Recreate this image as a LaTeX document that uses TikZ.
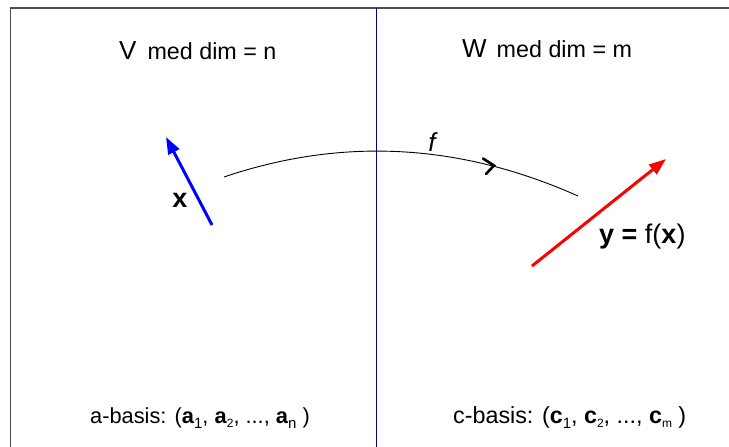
\documentclass[tikz,border=0pt]{standalone}
\usepackage{fontspec}
\setmainfont{Liberation Sans}
\usetikzlibrary{arrows.meta}
\newcommand{\subA}[1]{\raisebox{-0.25em}{\fontsize{15}{17}\selectfont #1}}
\newcommand{\subB}[1]{\raisebox{-0.2em}{\fontsize{12}{14}\selectfont #1}}
\begin{document}
\begin{tikzpicture}[x=1pt,y=-1pt,
  frameline/.style={draw=black!70,line width=1.5pt},
  midline/.style={draw=blue!50!black,line width=1pt},
  title/.style={inner sep=0pt,anchor=base west},
  vecx/.style={draw=blue,line width=3pt,-{Triangle[length=17pt,width=12pt]}},
  vecy/.style={draw=red,line width=3pt,-{Triangle[length=17pt,width=12pt]}},
  chevron/.style={draw=black,line width=2.6pt,line cap=round,line join=miter},
  maparc/.style={draw=black,line width=0.9pt},
  lab/.style={inner sep=0pt}]
\useasboundingbox (0,0) rectangle (729,447);
\coordinate (tl) at (10.5,8);
\coordinate (bl) at (10.5,447);
\coordinate (tr) at (729,8);
\coordinate (mt) at (376,8);
\coordinate (mb) at (376,447);
\draw[frameline] (bl) -- (tl) -- (tr);
\draw[midline] (mt) -- (mb);
% titles
\node[title] (V) at (119,59) {\fontsize{26}{30}\selectfont V\hspace{11pt}\fontsize{23.3}{27}\selectfont med dim = n};
\node[title] (W) at (462,57) {\fontsize{26}{30}\selectfont W\hspace{10pt}\fontsize{23.3}{27}\selectfont med dim = m};
% vectors
\coordinate (x0) at (212,225);
\coordinate (x1) at (166,137);
\draw[vecx] (x0) -- (x1);
\node[lab] (xl) at (180,200) {\fontsize{27}{30}\selectfont\bfseries x};
\coordinate (y0) at (532,266);
\coordinate (y1) at (666,159);
\draw[vecy] (y0) -- (y1);
\node[lab,anchor=base west] (yl) at (599,243) {\fontsize{27}{30}\selectfont\textbf{y =} f(\textbf{x})};
% map arc
\coordinate (a0) at (224,177);
\coordinate (a1) at (578,196);
\draw[maparc] (a0) .. controls (342,137) and (460,143.3) .. (a1);
\coordinate (ch) at (494,165.5);
\draw[chevron] ([shift={(-11,-7)}]ch) -- (ch) -- ([shift={(-8,8.5)}]ch);
\node[lab] (fl) at (432,142) {\fontsize{26}{30}\selectfont\itshape f};
% bases
\node[title] (ab) at (90,423) {\fontsize{21.8}{25}\selectfont a-basis: (\textbf{a}\subA{1}, \textbf{a}\subB{2}, ..., \textbf{a}\subA{n} )};
\node[title] (cb) at (453,423) {\fontsize{23.3}{27}\selectfont c-basis: (\textbf{c}\subA{1}, \textbf{c}\subB{2}, ..., \textbf{c}\subB{m} )};
\end{tikzpicture}
\end{document}
